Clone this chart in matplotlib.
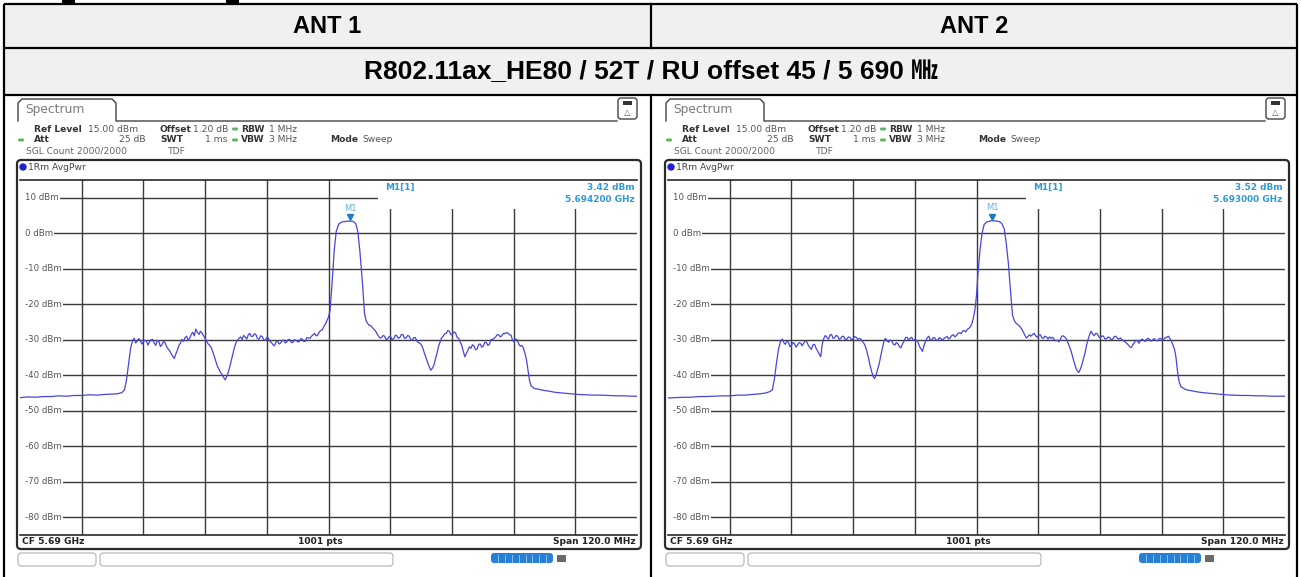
import numpy as np
import matplotlib.pyplot as plt
from matplotlib.patches import Rectangle, FancyBboxPatch
from matplotlib.transforms import offset_copy

W, H = 1301, 577

# sweep settings
span_start_mhz = 5630.0
span_mhz = 120.0
ref_level = 15.0
bottom_level = -85.0
level_ticks = [10, 0, -10, -20, -30, -40, -50, -60, -70, -80]

column_titles = ["ANT 1", "ANT 2"]
mode_title = "R802.11ax_HE80 / 52T / RU offset 45 / 5 690 \u3392"

# trace ANT 1: (offset from span start in MHz, level in dBm)
ant1_trace = [
    (0, -46.3), (1.5, -46.1), (3, -46.2), (4.5, -46.0), (6, -46.0), (7.5, -45.8),
    (9, -45.9), (10.5, -45.7), (12, -45.7), (13.5, -45.5), (15, -45.6), (16.5, -45.4),
    (18, -45.3), (19, -45.2), (19.8, -44.9), (20.3, -44.2), (20.7, -41.5), (21.1, -37.0),
    (21.5, -32.5), (21.9, -30.2), (22.2, -29.6), (22.5, -30.9), (22.8, -30.4), (23.1, -29.7),
    (23.4, -30.2), (23.7, -31.2), (24.0, -30.6), (24.3, -30.1), (24.6, -30.4), (24.9, -31.5),
    (25.2, -30.6), (25.5, -30.0), (25.8, -29.9), (26.1, -30.9), (26.4, -31.6), (26.7, -30.2),
    (27.0, -30.4), (27.3, -31.9), (27.6, -31.4), (27.9, -30.5), (28.2, -30.8), (28.5, -31.9),
    (28.8, -32.6), (29.1, -33.1), (29.4, -33.9), (29.7, -34.6), (30.0, -35.3), (30.3, -34.0),
    (30.6, -33.0), (30.9, -31.6), (31.2, -31.0), (31.5, -29.9), (31.8, -30.5), (32.1, -29.4),
    (32.4, -29.0), (32.7, -30.1), (33.0, -29.6), (33.3, -28.5), (33.6, -27.9), (33.9, -28.9),
    (34.2, -27.0), (34.5, -27.9), (34.8, -28.5), (35.1, -27.6), (35.4, -28.1), (35.7, -28.9),
    (36.0, -29.6), (36.3, -30.4), (36.6, -31.2), (36.9, -31.6), (37.2, -32.3), (37.5, -33.4),
    (37.8, -34.8), (38.1, -36.2), (38.4, -37.5), (38.7, -38.3), (39.0, -39.2), (39.3, -39.8),
    (39.6, -40.6), (39.9, -41.3), (40.2, -40.4), (40.5, -39.2), (40.8, -37.6), (41.1, -35.8),
    (41.4, -33.9), (41.7, -32.2), (42.0, -30.9), (42.3, -30.1), (42.6, -29.6), (42.9, -29.2),
    (43.2, -29.9), (43.5, -28.8), (43.8, -29.2), (44.1, -29.8), (44.4, -28.6), (44.7, -28.2),
    (45.0, -29.1), (45.3, -29.0), (45.6, -28.3), (45.9, -28.6), (46.2, -29.7), (46.5, -29.8),
    (46.8, -28.9), (47.1, -29.1), (47.4, -30.0), (47.7, -30.2), (48.0, -29.3), (48.3, -29.6),
    (48.6, -30.5), (48.9, -30.8), (49.2, -31.4), (49.5, -31.7), (49.8, -30.6), (50.1, -30.4),
    (50.4, -31.2), (50.7, -30.9), (51.0, -30.2), (51.3, -30.1), (51.6, -30.9), (51.9, -30.6),
    (52.2, -29.9), (52.5, -30.0), (52.8, -30.8), (53.1, -30.7), (53.4, -30.0), (53.7, -30.1),
    (54.0, -30.6), (54.3, -30.5), (54.6, -29.7), (54.9, -29.8), (55.2, -30.5), (55.5, -30.4),
    (55.8, -29.4), (56.1, -29.5), (56.4, -29.6), (56.7, -29.0), (57.0, -28.6), (57.3, -28.2),
    (57.6, -28.9), (57.9, -28.7), (58.2, -27.8), (58.5, -27.4), (58.8, -27.2), (59.1, -26.2),
    (59.4, -25.6), (59.7, -24.6), (60.0, -23.6), (60.3, -21.8), (60.7, -14.0), (61.1, -5.0),
    (61.5, 0.5), (62.0, 2.6), (62.6, 3.2), (63.2, 3.3), (63.8, 3.4), (64.2, 3.42),
    (64.8, 3.35), (65.3, 2.7), (65.7, 0.5), (66.1, -5.0), (66.6, -14.0), (67.0, -22.5),
    (67.3, -24.6), (67.6, -25.4), (67.9, -25.9), (68.2, -26.0), (68.5, -26.5), (68.8, -27.0),
    (69.1, -27.4), (69.4, -28.2), (69.7, -28.9), (70.0, -29.5), (70.3, -29.4), (70.6, -28.8),
    (70.9, -29.0), (71.2, -29.9), (71.5, -29.8), (71.8, -29.1), (72.1, -29.2), (72.4, -30.0),
    (72.7, -29.7), (73.0, -28.7), (73.3, -28.9), (73.6, -29.6), (73.9, -29.3), (74.2, -28.5),
    (74.5, -28.6), (74.8, -29.6), (75.1, -29.5), (75.4, -28.8), (75.7, -29.0), (76.0, -30.0),
    (76.3, -30.1), (76.6, -29.4), (76.9, -29.4), (77.2, -30.4), (77.5, -30.8), (77.8, -31.0),
    (78.1, -31.5), (78.4, -32.6), (78.7, -34.0), (79.0, -35.2), (79.3, -36.5), (79.6, -37.6),
    (79.9, -38.6), (80.2, -38.0), (80.5, -37.2), (80.8, -35.4), (81.1, -33.8), (81.4, -31.9),
    (81.7, -30.6), (82.0, -29.4), (82.3, -29.0), (82.6, -28.3), (82.9, -28.2), (83.2, -27.4),
    (83.5, -27.6), (83.8, -28.6), (84.1, -28.4), (84.4, -27.8), (84.7, -28.0), (85.0, -29.3),
    (85.3, -29.6), (85.6, -30.6), (85.9, -31.5), (86.2, -33.2), (86.5, -34.8), (86.8, -33.9),
    (87.1, -33.0), (87.4, -32.0), (87.7, -32.4), (88.0, -31.4), (88.3, -31.8), (88.6, -32.8),
    (88.9, -32.6), (89.2, -31.3), (89.5, -31.2), (89.8, -32.1), (90.1, -31.8), (90.4, -30.7),
    (90.7, -30.8), (91.0, -31.6), (91.3, -31.3), (91.6, -30.0), (91.9, -29.9), (92.2, -29.6),
    (92.5, -29.2), (92.8, -28.6), (93.1, -28.6), (93.4, -29.2), (93.7, -28.9), (94.0, -28.2),
    (94.3, -28.3), (94.6, -28.0), (94.9, -28.1), (95.2, -28.6), (95.5, -28.7), (95.8, -30.2),
    (96.1, -30.6), (96.4, -29.8), (96.7, -30.0), (97.0, -31.2), (97.3, -31.8), (97.6, -31.6),
    (97.9, -32.3), (98.2, -33.8), (98.5, -35.6), (98.8, -38.5), (99.1, -41.5), (99.4, -43.0),
    (100.0, -43.7), (101.0, -44.0), (102.0, -44.3), (103.0, -44.5), (104.0, -44.8),
    (105.5, -45.0), (107.0, -45.2), (108.5, -45.4), (110.0, -45.5), (111.5, -45.6),
    (113.0, -45.6), (114.5, -45.7), (116.0, -45.8), (117.5, -45.8), (119.0, -45.9),
    (120.0, -45.9),
]

# trace ANT 2
ant2_trace = [
    (0, -46.4), (1.5, -46.3), (3, -46.2), (4.5, -46.2), (6, -46.0), (7.5, -46.0),
    (9, -45.9), (10.5, -45.8), (12, -45.8), (13.5, -45.6), (15, -45.6), (16.5, -45.4),
    (18, -45.2), (19, -45.0), (19.8, -44.6), (20.3, -44.1), (20.7, -41.0), (21.1, -36.5),
    (21.5, -32.6), (21.9, -30.4), (22.2, -29.8), (22.5, -30.7), (22.8, -31.3), (23.1, -30.5),
    (23.4, -30.6), (23.7, -31.9), (24.0, -31.6), (24.3, -30.8), (24.6, -31.1), (24.9, -32.1),
    (25.2, -31.5), (25.5, -30.8), (25.8, -31.0), (26.1, -31.7), (26.4, -30.9), (26.7, -30.3),
    (27.0, -30.6), (27.3, -31.6), (27.6, -32.2), (27.9, -32.7), (28.2, -31.4), (28.5, -31.3),
    (28.8, -32.4), (29.1, -33.2), (29.4, -34.0), (29.7, -34.8), (30.0, -31.2), (30.3, -29.6),
    (30.6, -28.8), (30.9, -29.4), (31.2, -29.8), (31.5, -28.7), (31.8, -28.5), (32.1, -29.6),
    (32.4, -29.4), (32.7, -28.8), (33.0, -29.0), (33.3, -29.9), (33.6, -29.6), (33.9, -29.0),
    (34.2, -29.1), (34.5, -30.0), (34.8, -29.8), (35.1, -29.2), (35.4, -29.4), (35.7, -30.0),
    (36.0, -29.7), (36.3, -29.1), (36.6, -29.3), (36.9, -29.9), (37.2, -29.6), (37.5, -29.8),
    (37.8, -30.4), (38.1, -31.0), (38.4, -31.9), (38.7, -33.4), (39.0, -35.2), (39.3, -37.2),
    (39.6, -38.9), (39.9, -40.4), (40.2, -40.9), (40.5, -39.8), (40.8, -38.2), (41.1, -36.6),
    (41.4, -34.4), (41.7, -32.4), (42.0, -30.4), (42.3, -29.6), (42.6, -30.3), (42.9, -30.7),
    (43.2, -30.1), (43.5, -30.3), (43.8, -31.2), (44.1, -31.5), (44.4, -30.8), (44.7, -31.1),
    (45.0, -31.9), (45.3, -32.3), (45.6, -31.2), (45.9, -30.4), (46.2, -29.4), (46.5, -29.3),
    (46.8, -30.0), (47.1, -29.6), (47.4, -29.3), (47.7, -30.2), (48.0, -29.9), (48.3, -30.2),
    (48.6, -30.6), (48.9, -31.8), (49.2, -32.6), (49.5, -33.3), (49.8, -31.6), (50.1, -30.4),
    (50.4, -29.5), (50.7, -29.0), (51.0, -30.0), (51.3, -30.1), (51.6, -29.4), (51.9, -29.5),
    (52.2, -30.2), (52.5, -30.0), (52.8, -29.4), (53.1, -29.7), (53.4, -30.1), (53.7, -29.6),
    (54.0, -29.3), (54.3, -29.1), (54.6, -29.8), (54.9, -29.4), (55.2, -28.8), (55.5, -28.6),
    (55.8, -29.2), (56.1, -28.8), (56.4, -28.2), (56.7, -28.0), (57.0, -28.3), (57.3, -27.6),
    (57.6, -27.4), (57.9, -27.8), (58.2, -27.1), (58.5, -26.8), (58.8, -26.4), (59.1, -25.5),
    (59.4, -23.8), (59.7, -21.5), (60.0, -17.5), (60.3, -11.0), (60.7, -4.5), (61.1, 0.2),
    (61.5, 2.5), (62.0, 3.2), (62.6, 3.45), (63.0, 3.52), (63.8, 3.45), (64.4, 3.3),
    (64.9, 2.8), (65.4, 1.2), (65.8, -3.0), (66.2, -8.5), (66.6, -16.0), (67.0, -23.0),
    (67.3, -24.4), (67.6, -25.2), (67.9, -25.6), (68.2, -25.9), (68.5, -26.4), (68.8, -27.0),
    (69.1, -27.8), (69.4, -28.7), (69.7, -29.5), (70.0, -29.1), (70.3, -28.6), (70.6, -29.0),
    (70.9, -28.5), (71.2, -28.2), (71.5, -28.9), (71.8, -29.3), (72.1, -28.7), (72.4, -28.6),
    (72.7, -29.4), (73.0, -29.6), (73.3, -29.0), (73.6, -29.2), (73.9, -29.8), (74.2, -29.2),
    (74.5, -29.6), (74.8, -29.3), (75.1, -29.9), (75.4, -30.3), (75.7, -30.1), (76.0, -30.6),
    (76.3, -29.8), (76.6, -29.0), (76.9, -28.9), (77.2, -29.3), (77.5, -29.8), (77.8, -30.9),
    (78.1, -32.0), (78.4, -33.2), (78.7, -34.8), (79.0, -36.4), (79.3, -37.8), (79.6, -38.8),
    (79.9, -39.2), (80.2, -38.3), (80.5, -37.0), (80.8, -35.3), (81.1, -33.8), (81.4, -31.6),
    (81.7, -29.9), (82.0, -28.6), (82.3, -27.6), (82.6, -28.4), (82.9, -28.9), (83.2, -28.2),
    (83.5, -28.3), (83.8, -29.2), (84.1, -29.5), (84.4, -28.9), (84.7, -29.0), (85.0, -29.8),
    (85.3, -29.7), (85.6, -29.2), (85.9, -29.4), (86.2, -30.0), (86.5, -29.8), (86.8, -29.1),
    (87.1, -29.0), (87.4, -29.6), (87.7, -29.8), (88.0, -29.5), (88.3, -30.0), (88.6, -30.3),
    (88.9, -30.6), (89.2, -31.0), (89.5, -31.4), (89.8, -32.0), (90.1, -32.2), (90.4, -31.4),
    (90.7, -30.8), (91.0, -30.1), (91.3, -30.4), (91.6, -31.0), (91.9, -30.2), (92.2, -29.8),
    (92.5, -30.1), (92.8, -30.5), (93.1, -29.8), (93.4, -29.6), (93.7, -30.0), (94.0, -30.4),
    (94.3, -29.9), (94.6, -29.7), (94.9, -30.2), (95.2, -30.3), (95.5, -29.7), (95.8, -29.6),
    (96.1, -30.1), (96.4, -30.0), (96.7, -29.4), (97.0, -29.3), (97.3, -29.0), (97.6, -29.6),
    (97.9, -30.4), (98.2, -31.5), (98.5, -32.6), (98.8, -35.0), (99.1, -39.0), (99.4, -41.8),
    (99.8, -43.3), (100.8, -44.1), (102.0, -44.4), (103.0, -44.7), (104.0, -44.9),
    (105.5, -45.1), (107.0, -45.3), (108.5, -45.5), (110.0, -45.6), (111.5, -45.7),
    (113.0, -45.7), (114.5, -45.8), (116.0, -45.8), (117.5, -45.9), (119.0, -45.9),
    (120.0, -45.9),
]

marker_freq_ghz = [5.6942, 5.6930]
marker_level_dbm = [3.42, 3.52]

traces = [ant1_trace, ant2_trace]

TRACE_BLUE = "#4646dc"
MARKER_BLUE = "#2f9ad8"
GRID = "#3a3a3a"
LABEL_GRAY = "#555555"
LED_GREEN = "#5cb85c"

fig = plt.figure(figsize=(W / 100, H / 100), dpi=100)
bg = fig.add_axes([0, 0, 1, 1])
bg.set_xlim(0, W)
bg.set_ylim(H, 0)
bg.axis("off")

# table frame
bg.add_patch(Rectangle((4, 4), 1293, 91, facecolor="#f0f0f0", edgecolor="none"))
for y in (4, 48, 95):
    bg.plot([4, 1297], [y, y], color="black", lw=1.6, solid_capstyle="butt")
for x in (4, 1297):
    bg.plot([x, x], [4, H], color="black", lw=1.6, solid_capstyle="butt")
bg.plot([651, 651], [4, 48], color="black", lw=1.6)
bg.plot([651, 651], [95, H], color="black", lw=1.6)
for x0, x1 in ((62, 75), (226, 239)):
    bg.add_patch(Rectangle((x0, 0), x1 - x0, 3, facecolor="black", edgecolor="none"))

head_font = dict(family=["Liberation Sans", "Noto Sans CJK SC"], weight="bold")
bg.text(327.5, 26.5, column_titles[0], ha="center", va="center", size=17, **head_font)
bg.text(974, 26.5, column_titles[1], ha="center", va="center", size=17, **head_font)
bg.text(651, 72, mode_title, ha="center", va="center", size=19, **head_font)


def info(x, y, s, bold=False, color="#333333", ha="left", size=6.6):
    bg.text(x, y, s, ha=ha, va="center", color=color, size=size,
            weight="bold" if bold else "normal", family="DejaVu Sans")


def led(x, y):
    bg.add_patch(FancyBboxPatch((x - 3, y - 1.5), 6, 3, boxstyle="round,pad=0,rounding_size=1.5",
                                facecolor=LED_GREEN, edgecolor="none"))


def draw_panel(ox, idx):
    # tab and tab baseline
    tx0, tx1, ty0, ty1 = ox + 18, ox + 116, 99, 121
    bg.plot([tx0, tx0, tx0 + 4, tx1 - 4, tx1, tx1, ox + 617],
            [ty1, ty0 + 4, ty0, ty0, ty0 + 4, ty1, ty1], color="#444444", lw=1.0)
    info(ox + 25, 110, "Spectrum", color="#7a7a7a", size=8.8)
    bg.add_patch(FancyBboxPatch((ox + 618, 98), 19, 21, boxstyle="round,pad=0,rounding_size=3",
                                facecolor="white", edgecolor="#444444", lw=1.0))
    bg.add_patch(Rectangle((ox + 623, 101), 9, 4, facecolor="#333333", edgecolor="none"))
    bg.text(ox + 627.5, 112, "\u25b3", ha="center", va="center", size=6, color="#555555")

    # settings block
    info(ox + 34, 129, "Ref Level", bold=True)
    info(ox + 88, 129, "15.00 dBm", color=LABEL_GRAY)
    info(ox + 160, 129, "Offset", bold=True)
    info(ox + 193, 129, "1.20 dB", color=LABEL_GRAY)
    led(ox + 235, 129)
    info(ox + 241, 129, "RBW", bold=True)
    info(ox + 269, 129, "1 MHz", color=LABEL_GRAY)
    led(ox + 21, 140)
    info(ox + 34, 140, "Att", bold=True)
    info(ox + 146, 140, "25 dB", color=LABEL_GRAY, ha="right")
    info(ox + 160, 140, "SWT", bold=True)
    info(ox + 227, 140, "1 ms", color=LABEL_GRAY, ha="right")
    led(ox + 235, 140)
    info(ox + 241, 140, "VBW", bold=True)
    info(ox + 269, 140, "3 MHz", color=LABEL_GRAY)
    info(ox + 330, 140, "Mode", bold=True)
    info(ox + 362, 140, "Sweep", color=LABEL_GRAY)
    info(ox + 26, 151, "SGL Count 2000/2000", color="#666666")
    info(ox + 168, 151, "TDF", color="#666666")

    # diagram frame
    bg.add_patch(FancyBboxPatch((ox + 17, 160), 624, 389, boxstyle="round,pad=0,rounding_size=4",
                                facecolor="white", edgecolor="#2a2a2a", lw=1.6))
    bg.add_patch(plt.Circle((ox + 23, 167), 3, color="#1f1fd0"))
    info(ox + 28, 167, "1Rm AvgPwr", color="#444444")

    info(ox + 22, 542, "CF 5.69 GHz", bold=True, color="#222222", size=6.6)
    info(ox + 320, 542, "1001 pts", bold=True, color="#222222", ha="center", size=6.6)
    info(ox + 636, 542, "Span 120.0 MHz", bold=True, color="#222222", ha="right", size=6.6)

    # soft keys under the diagram
    for x0, x1 in ((ox + 18, ox + 96), (ox + 100, ox + 393)):
        bg.add_patch(FancyBboxPatch((x0, 553), x1 - x0, 13, boxstyle="round,pad=0,rounding_size=3",
                                    facecolor="white", edgecolor="#b0b0b0", lw=0.8))
    bg.add_patch(FancyBboxPatch((ox + 491, 553), 62, 10, boxstyle="round,pad=0,rounding_size=3",
                                facecolor="#2680d8", edgecolor="none"))
    for k in range(1, 9):
        bg.plot([ox + 491 + k * 6.9] * 2, [554.5, 561.5], color="#9cc8f0", lw=0.6)
    bg.add_patch(Rectangle((ox + 557, 555), 9, 7, facecolor="#6a6a6a", edgecolor="none"))

    # spectrum diagram
    ax = fig.add_axes([(ox + 20) / W, 1 - 535 / H, 617 / W, 355 / H])
    ax.set_xlim(0, span_mhz)
    ax.set_ylim(bottom_level, ref_level)
    ax.set_xticks([])
    ax.set_yticks([])
    for side in ("left", "right"):
        ax.spines[side].set_visible(False)
    for side in ("top", "bottom"):
        ax.spines[side].set_color("#2a2a2a")
        ax.spines[side].set_linewidth(1.2)
    ax.patch.set_alpha(0)

    for k in range(1, 10):
        ax.axvline(span_mhz * k / 10, color=GRID, lw=1.0, zorder=1)
    for lv in level_ticks:
        ax.axhline(lv, color=GRID, lw=1.0, zorder=1)
        ax.add_patch(Rectangle((0, lv - 1.5), 1.2, 3, facecolor="white", edgecolor="none", zorder=2))
        ax.text(1.0, lv, f"{lv} dBm", ha="left", va="center", size=6.2, color=LABEL_GRAY,
                zorder=3, bbox=dict(facecolor="white", edgecolor="none", pad=0.8))

    # marker readout covers the upper right of the grid
    ax.add_patch(Rectangle((69.6, 6.7), span_mhz - 69.6, ref_level - 6.7, facecolor="white",
                           edgecolor="none", zorder=2))
    m_off = marker_freq_ghz[idx] * 1000 - span_start_mhz
    ax.text(71.0, 12.8, "M1[1]", ha="left", va="center", size=6.4, color=MARKER_BLUE,
            weight="bold", zorder=3)
    ax.text(119.5, 12.8, f"{marker_level_dbm[idx]:.2f} dBm", ha="right", va="center", size=6.4,
            color=MARKER_BLUE, weight="bold", zorder=3)
    ax.text(119.5, 9.6, f"{marker_freq_ghz[idx]:.6f} GHz", ha="right", va="center", size=6.4,
            color=MARKER_BLUE, weight="bold", zorder=3)

    f, lvl = zip(*traces[idx])
    ax.plot(f, lvl, color=TRACE_BLUE, lw=0.9, zorder=4)

    tri = offset_copy(ax.transData, fig=fig, y=4, units="dots")
    ax.plot([m_off], [marker_level_dbm[idx]], marker="v", ms=4.5, color="#1a7fc4",
            transform=tri, zorder=5)
    lab = offset_copy(ax.transData, fig=fig, y=13, units="dots")
    ax.text(m_off, marker_level_dbm[idx], "M1", ha="center", va="center", size=6,
            color="#5fb0e0", transform=lab, zorder=5)


draw_panel(0, 0)
draw_panel(648, 1)

fig.savefig("out.png", dpi=100)
